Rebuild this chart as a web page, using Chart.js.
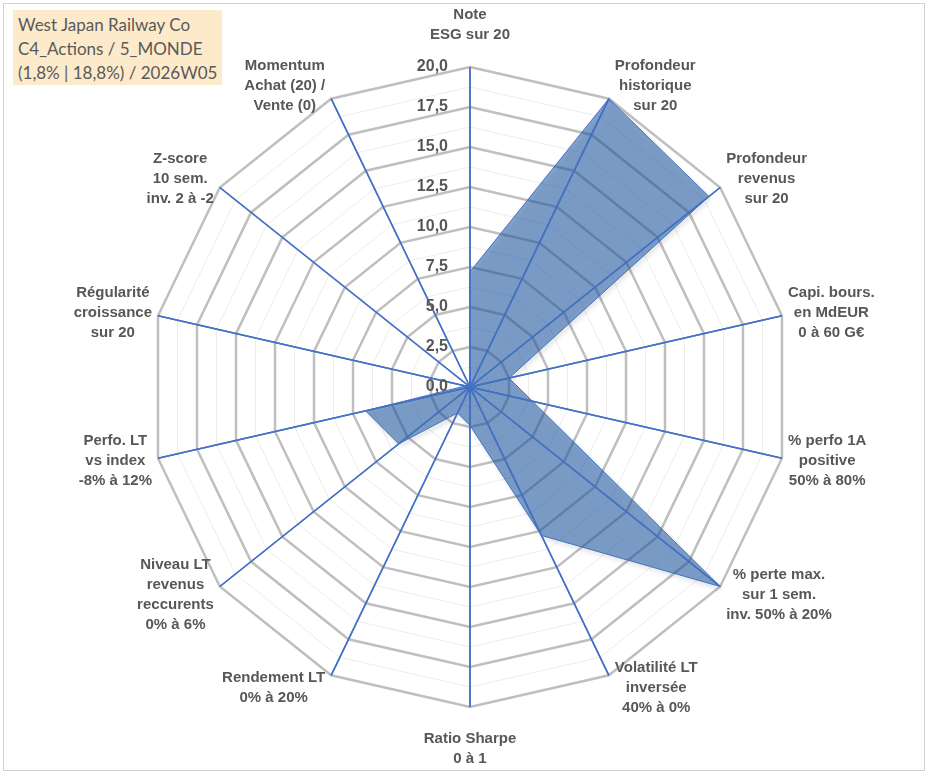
<!DOCTYPE html>
<html>
<head>
<meta charset="utf-8">
<script src="https://cdn.jsdelivr.net/npm/chart.js@4.4.1/dist/chart.umd.min.js"></script>
<style>
  html,body{margin:0;padding:0;background:#fff;}
  #wrap{position:relative;width:933px;height:776px;}
  #frame{position:absolute;left:3px;top:3px;width:920px;height:766px;border:1px solid #d0d0d0;pointer-events:none;}
  #titleBox{position:absolute;left:13px;top:10px;width:204px;height:72px;padding:3px 0 0 5px;background:#fdeacb;
    font-family:Lato,"Open Sans",sans-serif;font-size:17px;line-height:24px;color:#595959;white-space:nowrap;}
</style>
</head>
<body>
<div id="wrap">
  <canvas id="radar"></canvas>
  <div id="frame"></div>
  <div id="titleBox">West Japan Railway Co<br>C4_Actions / 5_MONDE<br>(1,8% | 18,8%) / 2026W05</div>
</div>
<script>
// axes du radar (dans le sens horaire depuis le haut)
const axisLabels=[
  ['Note','ESG sur 20'],
  ['Profondeur','historique','sur 20'],
  ['Profondeur','revenus','sur 20'],
  ['Capi. bours.','en MdEUR','0 à 60 G€'],
  ['% perfo 1A','positive','50% à 80%'],
  ['% perte max.','sur 1 sem.','inv. 50% à 20%'],
  ['Volatilité LT','inversée','40% à 0%'],
  ['Ratio Sharpe','0 à 1'],
  ['Rendement LT','0% à 20%'],
  ['Niveau LT','revenus','reccurents','0% à 6%'],
  ['Perfo. LT','vs index','-8% à 12%'],
  ['Régularité','croissance','sur 20'],
  ['Z-score','10 sem.','inv. 2 à -2'],
  ['Momentum','Achat (20) /','Vente (0)']
];
const scores=[7.2,20,19.1,2.5,4.0,20,10.3,2.4,1.8,5.7,6.7,0.3,0,0];
const tickValues=[0,2.5,5,7.5,10,12.5,15,17.5,20];

const BLUE='#4472c4';
const TXT='#575757';

const radarDecor={
  id:'radarDecor',
  beforeDatasetsDraw(chart){
    const ctx=chart.ctx;
    ctx.save();
    ctx.shadowColor='rgba(0,0,0,0.16)';
    ctx.shadowBlur=5;
    ctx.shadowOffsetX=2;
    ctx.shadowOffsetY=3;
  },
  afterDatasetsDraw(chart){
    const ctx=chart.ctx;
    ctx.restore();
    const s=chart.scales.r;
    // lignes d'axes au-dessus du remplissage
    ctx.save();
    ctx.strokeStyle=BLUE;ctx.lineWidth=1.5;
    axisLabels.forEach((l,i)=>{
      const p=s.getPointPosition(i,s.drawingArea);
      ctx.beginPath();ctx.moveTo(s.xCenter,s.yCenter);ctx.lineTo(p.x,p.y);ctx.stroke();
    });
    ctx.restore();
  },
  afterDraw(chart){
    const ctx=chart.ctx;
    const s=chart.scales.r;
    ctx.save();
    // graduations à gauche de l'axe vertical
    ctx.font='bold 16px "Liberation Sans", Arial, sans-serif';
    ctx.fillStyle=TXT;ctx.textAlign='right';ctx.textBaseline='middle';
    tickValues.forEach(v=>{
      const y=s.yCenter-s.getDistanceFromCenterForValue(v);
      ctx.fillText(v.toFixed(1).replace('.',','),s.xCenter-22,y);
    });
    // libellés des axes, lignes centrées, bloc posé à côté du bout de l'axe
    ctx.font='bold 15px "Liberation Sans", Arial, sans-serif';
    ctx.textAlign='center';
    const lh=20;
    axisLabels.forEach((lines,i)=>{
      const end=s.getPointPosition(i,s.drawingArea);
      const a=Math.atan2(end.x-s.xCenter,s.yCenter-end.y);
      const sn=Math.sin(a),cs=Math.cos(a);
      const w=Math.max(...lines.map(t=>ctx.measureText(t).width));
      const h=lines.length*lh;
      let cx,cy;
      if(Math.abs(sn)<0.1){
        cx=end.x;cy=end.y-cs*(h/2+22);
      }else{
        cx=end.x+Math.sign(sn)*(6+w/2);
        cy=end.y-cs*14;
      }
      const y0=cy-(lines.length-1)*lh/2;
      lines.forEach((t,k)=>ctx.fillText(t,cx,y0+k*lh));
    });
    ctx.restore();
  }
};

new Chart(document.getElementById('radar'),{
  type:'radar',
  data:{
    labels:axisLabels.map(l=>l.join(' ')),
    datasets:[{
      label:'West Japan Railway Co',
      data:scores,
      backgroundColor:'rgba(30,90,165,0.55)',
      borderColor:BLUE,
      borderWidth:1,
      pointRadius:0,
      fill:true,
      tension:0
    }]
  },
  options:{
    responsive:true,maintainAspectRatio:false,animation:false,
    layout:{padding:{left:150,right:143,top:67,bottom:69}},
    plugins:{legend:{display:false},tooltip:{enabled:false}},
    scales:{r:{
      min:0,max:20,
      ticks:{stepSize:1.25,display:false},
      pointLabels:{display:false},
      grid:{
        circular:false,
        color:c=>c.tick&&c.tick.value%2.5===0?'#bfbfbf':'#ececec',
        lineWidth:c=>c.tick&&c.tick.value%2.5===0?2.5:1
      },
      angleLines:{display:true,color:BLUE,lineWidth:1.5}
    }}
  },
  plugins:[radarDecor]
});
</script>
</body>
</html>
